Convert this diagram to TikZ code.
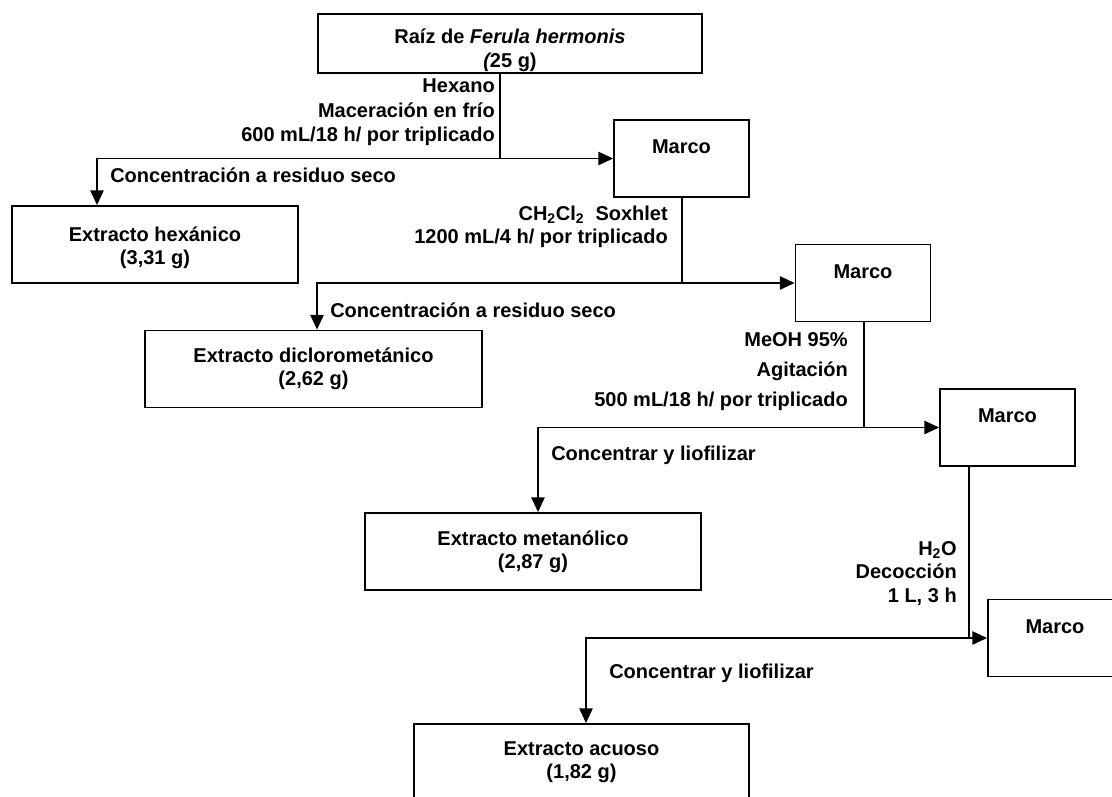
\documentclass[tikz,border=0pt]{standalone}
\usepackage{fontspec}
\setmainfont{Liberation Sans}
\usetikzlibrary{arrows.meta}
\begin{document}
\begin{tikzpicture}[x=0.75pt,y=-0.75pt,
  every node/.style={font=\fontsize{15}{17.5}\selectfont\bfseries},
  box/.style={draw,line width=1.4pt,inner sep=0pt,align=center},
  mbox/.style={box,minimum width=101.25pt,minimum height=57.75pt},
  ebox/.style={box,minimum height=57.75pt},
  lbl/.style={inner sep=0pt,align=right,anchor=east},
  lbll/.style={inner sep=0pt,anchor=west},
  conn/.style={line width=1pt},
  arr/.style={conn,-{Triangle[length=11pt,width=10pt]}}]
\useasboundingbox (0,0) rectangle (1112,796);
\clip (0,0) rectangle (1112,796);

% boxes
\node[box,minimum width=288pt,minimum height=44.25pt] (top) at (510,43.5)
  {\rule{0pt}{21pt}Raíz de \textit{Ferula hermonis}\\{\itshape(}25 g)};
\node[mbox] (M1) at (681.5,158.5) {Marco\\\mbox{}};
\node[ebox,minimum width=214.5pt] (hex) at (155,244.5) {\rule{0pt}{16pt}Extracto hexánico\\(3,31 g)};
\node[mbox] (M2) at (863,283) {Marco\\\mbox{}};
\node[ebox,minimum width=252.75pt] (dcm) at (313.5,369) {Extracto diclorometánico\\(2,62 g)};
\node[mbox] (M3) at (1007.5,427.5) {Marco\\\mbox{}};
\node[ebox,minimum width=252pt] (met) at (533,551.5) {Extracto metanólico\\(2,87 g)};
\node[mbox,minimum width=100.5pt] (M4) at (1055,638) {Marco\\\mbox{}};
\node[ebox,minimum width=251.25pt] (acu) at (581.5,762.5) {Extracto acuoso\\(1,82 g)};

% junctions
\coordinate (j1) at (500,158.5);
\coordinate (c1) at (97,158.5);
\coordinate (j2) at (682,283);
\coordinate (c2) at (317,283);
\coordinate (j3) at (864,427.5);
\coordinate (c3) at (538,427.5);
\coordinate (j4) at (969,638);
\coordinate (c4) at (586,638);

% connectors
\draw[conn] (top.south -| j1) -- (j1);
\draw[arr] (j1) -- (M1.west);
\draw[arr] (j1) -- (c1) -- (c1 |- hex.north);

\draw[conn] (M1.south -| j2) -- (j2);
\draw[arr] (j2) -- (M2.west);
\draw[arr] (j2) -- (c2) -- (c2 |- dcm.north);

\draw[conn] (M2.south -| j3) -- (j3);
\draw[arr] (j3) -- (M3.west);
\draw[arr] (j3) -- (c3) -- (c3 |- met.north);

\draw[conn] (M3.south -| j4) -- (j4);
\draw[arr] (j4) -- (M4.west);
\draw[arr] (j4) -- (c4) -- (c4 |- acu.north);

% labels
\node[lbl,font=\fontsize{15}{18.4}\selectfont\bfseries] (l1) at (495,112.5)
  {Hexano\\Maceración en frío\\600 mL/18 h/ por triplicado};
\node[lbll] (k1) at (110,175) {Concentración a residuo seco};
\node[lbl] (l2) at (668,226.5)
  {CH\textsubscript{2}Cl\textsubscript{2}\ \ Soxhlet\\1200 mL/4 h/ por triplicado};
\node[lbll] (k2) at (330,310) {Concentración a residuo seco};
\node[lbl,font=\fontsize{15}{22.5}\selectfont\bfseries] (l3) at (848,372)
  {MeOH 95\%\\Agitación\\500 mL/18 h/ por triplicado};
\node[lbll] (k3) at (551,455) {Concentrar y liofilizar};
\node[lbl] (l4) at (957,573.5)
  {H\textsubscript{2}O\\Decocción\\1 L, 3 h};
\node[lbll] (k4) at (609,673) {Concentrar y liofilizar};
\end{tikzpicture}
\end{document}
